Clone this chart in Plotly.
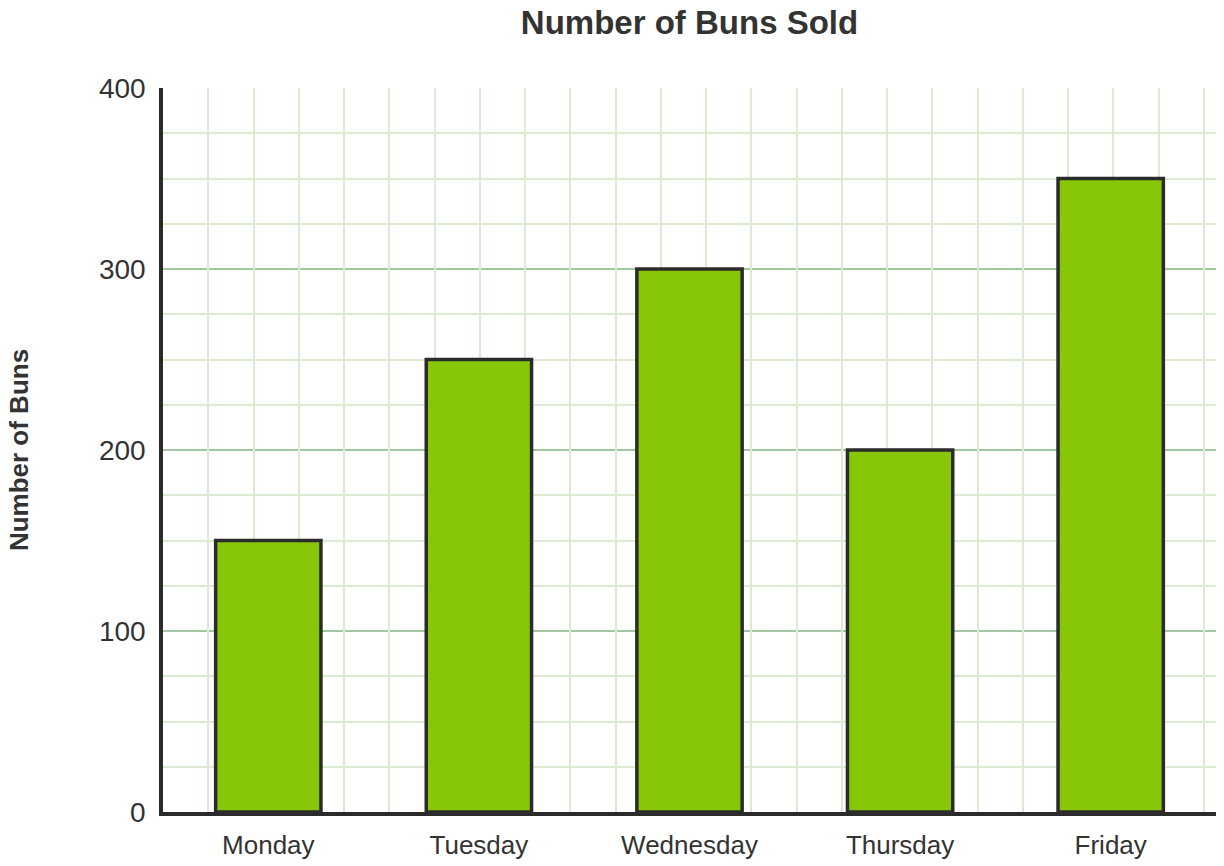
"""Bar chart: number of buns sold per weekday, on a green graph-paper grid."""
import plotly.graph_objects as go

DAYS = ["Monday", "Tuesday", "Wednesday", "Thursday", "Friday"]
BUNS_SOLD = [150, 250, 300, 200, 350]
Y_TICKS = [0, 100, 200, 300, 400]

BAR_COLOR = "#88c708"
EDGE_COLOR = "#2b2b2b"
MINOR_GRID = "#dbead0"
MAJOR_GRID = "#a2c5a2"
TEXT_COLOR = "#333333"
FONT = "Liberation Sans, Arial, sans-serif"

W, H = 1224, 866
M = dict(l=163, r=8, t=88, b=54)
Y_MAX = 400
MINOR_STEP = 25
# keep the vertical grid square with the horizontal one
plot_w = W - M["l"] - M["r"]
plot_h = H - M["t"] - M["b"]
cell_px = plot_h / Y_MAX * MINOR_STEP
n_cols = plot_w / cell_px

fig = go.Figure()

# invisible helper trace so the linear grid axis exists
fig.add_trace(go.Scatter(x=[0], y=[0], xaxis="x2", mode="markers",
                         marker=dict(opacity=0), hoverinfo="skip", showlegend=False))

fig.add_trace(go.Bar(
    x=DAYS, y=BUNS_SOLD,
    marker=dict(color=BAR_COLOR, line=dict(color=EDGE_COLOR, width=3.5)),
    showlegend=False,
))

fig.update_layout(
    width=W, height=H,
    margin=M,
    paper_bgcolor="white", plot_bgcolor="white",
    bargap=0.5,
    font=dict(family=FONT, color=TEXT_COLOR),
    title=dict(text="<b>Number of Buns Sold</b>", x=0.5, xref="paper", xanchor="center",
               y=1 - 22 / H, yref="container", yanchor="middle",
               font=dict(size=33, color=TEXT_COLOR)),
    xaxis=dict(
        showgrid=False, zeroline=False, automargin=False,
        showline=True, linecolor=EDGE_COLOR, linewidth=3.5,
        ticks="", tickfont=dict(size=26, color=TEXT_COLOR),
        ticklabelstandoff=7,
    ),
    xaxis2=dict(
        overlaying="x", range=[0, n_cols], dtick=1, tick0=0,
        showgrid=True, gridcolor=MINOR_GRID, gridwidth=2,
        showticklabels=False, ticks="", zeroline=False, showline=False,
    ),
    yaxis=dict(
        range=[0, Y_MAX], tickvals=Y_TICKS, automargin=False,
        showgrid=True, gridcolor=MAJOR_GRID, gridwidth=2,
        minor=dict(dtick=MINOR_STEP, showgrid=True, gridcolor=MINOR_GRID, gridwidth=2),
        zeroline=False,
        showline=True, linecolor=EDGE_COLOR, linewidth=3.5,
        ticks="", tickfont=dict(size=28, color=TEXT_COLOR),
        ticklabelstandoff=8,
        title=dict(text="<b>Number of Buns</b>", font=dict(size=26, color=TEXT_COLOR), standoff=64),
    ),
)

# drop the default body margin so the figure fills the window exactly
fig.write_html("out.html", config={"displayModeBar": False},
               post_script="document.body.style.margin = '0';")
